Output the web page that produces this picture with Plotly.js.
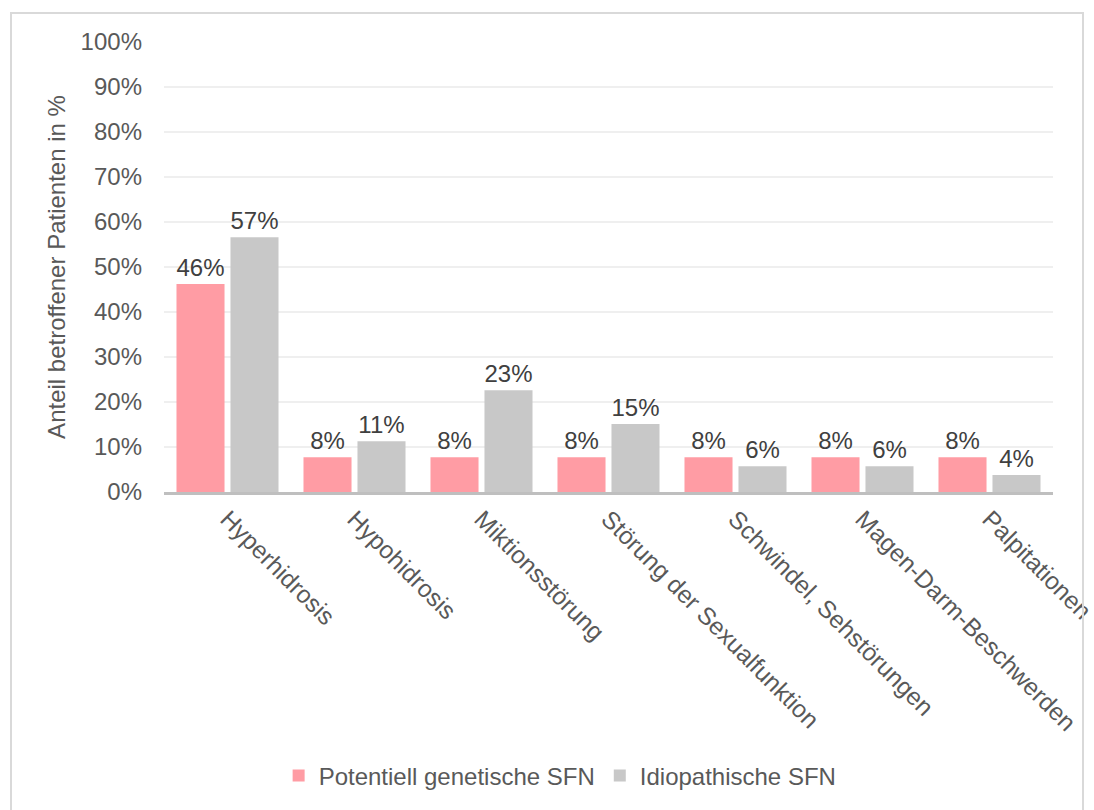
<!DOCTYPE html>
<html>
<head>
<meta charset="utf-8">
<script src="https://cdn.plot.ly/plotly-3.0.1.min.js"></script>
<style>
  html, body { margin: 0; padding: 0; background: #ffffff; }
  #wrap { position: relative; width: 1094px; height: 810px; overflow: hidden; }
  #chart { position: absolute; left: 0; top: 0; width: 1094px; height: 810px; }
  #frame { position: absolute; left: 10px; top: 12px; width: 1070px; height: 820px;
           border: 2px solid #d9d9d9; pointer-events: none; }
</style>
</head>
<body>
<div id="wrap">
  <div id="chart"></div>
  <div id="frame"></div>
</div>
<script>
// Symptom categories (x axis)
const categories = [
  "Hyperhidrosis",
  "Hypohidrosis",
  "Miktionsstörung",
  "Störung der Sexualfunktion",
  "Schwindel, Sehstörungen",
  "Magen-Darm-Beschwerden",
  "Palpitationen"
];

// Share of affected patients (fraction of group)
const genetischValues = [0.462, 0.077, 0.077, 0.077, 0.077, 0.077, 0.077];
const idiopathischValues = [0.566, 0.113, 0.226, 0.151, 0.057, 0.057, 0.038];

const seriesNames = ["Potentiell genetische SFN", "Idiopathische SFN"];

// Y axis ticks
const yTickValues = [0, 0.1, 0.2, 0.3, 0.4, 0.5, 0.6, 0.7, 0.8, 0.9, 1.0];
const yTickLabels = ["0%", "10%", "20%", "30%", "40%", "50%", "60%", "70%", "80%", "90%", "100%"];

const FONT = "Liberation Sans, Arial, sans-serif";

const labelFont = { family: FONT, size: 24, color: "#404040" };

const traces = [
  {
    type: "bar",
    name: seriesNames[0],
    x: categories,
    y: genetischValues,
    marker: { color: "#ff9ca4" },
    texttemplate: "%{y:.0%}",
    textposition: "outside",
    textfont: labelFont,
    cliponaxis: false,
    hoverinfo: "x+y"
  },
  {
    type: "bar",
    name: seriesNames[1],
    x: categories,
    y: idiopathischValues,
    marker: { color: "#c8c8c8" },
    texttemplate: "%{y:.0%}",
    textposition: "outside",
    textfont: labelFont,
    cliponaxis: false,
    hoverinfo: "x+y"
  }
];

const layout = {
  width: 1094,
  height: 810,
  paper_bgcolor: "#ffffff",
  plot_bgcolor: "#ffffff",
  font: { family: FONT, size: 24, color: "#595959" },
  margin: { l: 164, r: 41, t: 42, b: 318 },
  barmode: "group",
  bargap: 0.15,
  bargroupgap: 0.11,
  showlegend: true,
  legend: {
    orientation: "h",
    xref: "container",
    yref: "container",
    x: 0.512,
    xanchor: "center",
    y: 0.042,
    yanchor: "middle",
    font: { family: FONT, size: 24, color: "#595959" },
    itemwidth: 30,
    tracegroupgap: 0
  },
  xaxis: {
    type: "category",
    tickangle: 45,
    tickfont: { family: FONT, size: 24.5, color: "#595959" },
    showline: true,
    linecolor: "#bfbfbf",
    linewidth: 3,
    ticks: "",
    showgrid: false,
    automargin: false
  },
  yaxis: {
    range: [0, 1],
    tickvals: yTickValues,
    ticktext: yTickLabels,
    tickfont: { family: FONT, size: 24, color: "#595959" },
    showgrid: true,
    gridcolor: "#efefef",
    gridwidth: 2,
    zeroline: false,
    showline: false,
    ticks: "",
    ticklabelstandoff: 21,
    automargin: false,
    title: {
      text: "Anteil betroffener Patienten in %",
      font: { family: FONT, size: 24, color: "#595959" },
      standoff: 8
    }
  }
};

Plotly.newPlot("chart", traces, layout, { displayModeBar: false, staticPlot: true });
</script>
</body>
</html>
